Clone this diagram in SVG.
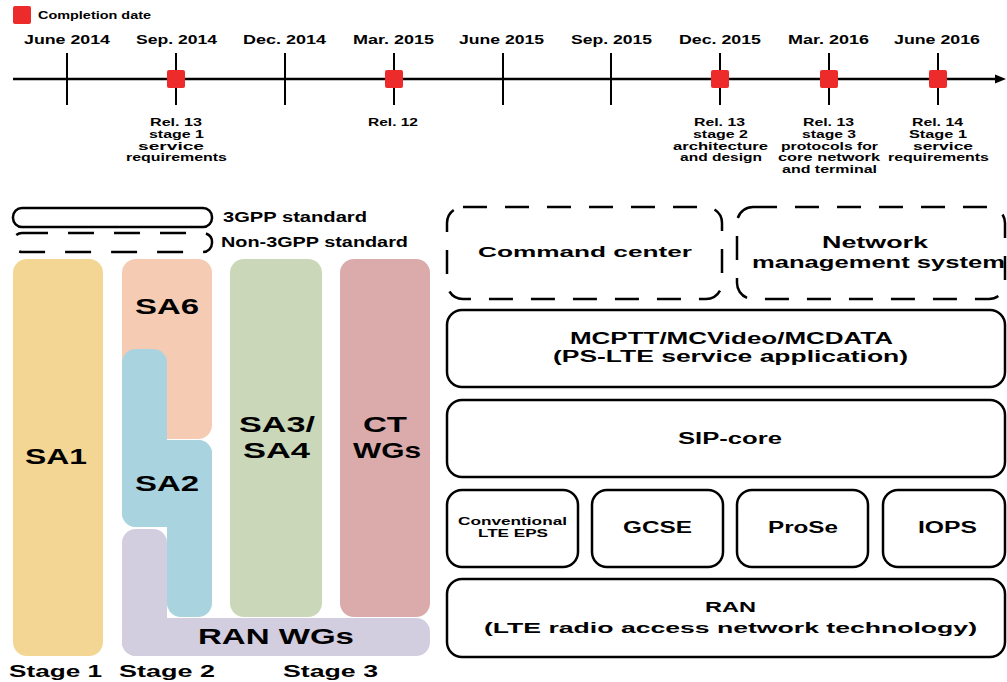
<svg xmlns="http://www.w3.org/2000/svg" width="1007" height="682" viewBox="0 0 1007 682">
<style>
.t{font-family:"Liberation Sans",Arial,sans-serif;font-weight:bold;fill:#000}
.box{fill:#fff;stroke:#000;stroke-width:2.5}
.dash{fill:#fff;stroke:#000;stroke-width:2.5;stroke-dasharray:24 18}
.tick{stroke:#000;stroke-width:2}
.mark{fill:#ee2b2b}
</style>
<rect width="1007" height="682" fill="#fff"/>
<!-- timeline -->
<g id="timeline">
<rect class="mark" x="13" y="6" width="18" height="18" rx="2"/>
<text class="t" x="38" y="18.5" font-size="10" textLength="113" lengthAdjust="spacingAndGlyphs">Completion date</text>
<line x1="13" y1="79" x2="998" y2="79" stroke="#000" stroke-width="2.5"/>
<polygon points="995,74.5 1006,79 995,83.5" fill="#000"/>
<line class="tick" x1="67" y1="53" x2="67" y2="105"/>
<line class="tick" x1="176" y1="53" x2="176" y2="105"/>
<line class="tick" x1="285" y1="53" x2="285" y2="105"/>
<line class="tick" x1="394" y1="53" x2="394" y2="105"/>
<line class="tick" x1="503" y1="53" x2="503" y2="105"/>
<line class="tick" x1="611" y1="53" x2="611" y2="105"/>
<line class="tick" x1="720" y1="53" x2="720" y2="105"/>
<line class="tick" x1="829" y1="53" x2="829" y2="105"/>
<line class="tick" x1="938" y1="53" x2="938" y2="105"/>
<rect class="mark" x="167" y="70" width="18" height="18" rx="2"/>
<rect class="mark" x="385" y="70" width="18" height="18" rx="2"/>
<rect class="mark" x="711" y="70" width="18" height="18" rx="2"/>
<rect class="mark" x="820" y="70" width="18" height="18" rx="2"/>
<rect class="mark" x="929" y="70" width="18" height="18" rx="2"/>
<g font-size="12">
<text class="t" x="24" y="44.3" textLength="86" lengthAdjust="spacingAndGlyphs">June 2014</text>
<text class="t" x="136" y="44.3" textLength="81" lengthAdjust="spacingAndGlyphs">Sep. 2014</text>
<text class="t" x="243" y="44.3" textLength="83" lengthAdjust="spacingAndGlyphs">Dec. 2014</text>
<text class="t" x="353" y="44.3" textLength="81" lengthAdjust="spacingAndGlyphs">Mar. 2015</text>
<text class="t" x="459" y="44.3" textLength="85" lengthAdjust="spacingAndGlyphs">June 2015</text>
<text class="t" x="571" y="44.3" textLength="81" lengthAdjust="spacingAndGlyphs">Sep. 2015</text>
<text class="t" x="679" y="44.3" textLength="82" lengthAdjust="spacingAndGlyphs">Dec. 2015</text>
<text class="t" x="788" y="44.3" textLength="81" lengthAdjust="spacingAndGlyphs">Mar. 2016</text>
<text class="t" x="894" y="44.3" textLength="86" lengthAdjust="spacingAndGlyphs">June 2016</text>
</g>
<g font-size="11">
<text class="t" x="150" y="126" textLength="52" lengthAdjust="spacingAndGlyphs">Rel. 13</text>
<text class="t" x="149" y="137.5" textLength="55" lengthAdjust="spacingAndGlyphs">stage 1</text>
<text class="t" x="138" y="149.5" textLength="66" lengthAdjust="spacingAndGlyphs">service</text>
<text class="t" x="126" y="161" textLength="101" lengthAdjust="spacingAndGlyphs">requirements</text>
<text class="t" x="368" y="126" textLength="50" lengthAdjust="spacingAndGlyphs">Rel. 12</text>
<text class="t" x="694" y="126" textLength="51" lengthAdjust="spacingAndGlyphs">Rel. 13</text>
<text class="t" x="693" y="137.5" textLength="55" lengthAdjust="spacingAndGlyphs">stage 2</text>
<text class="t" x="673" y="149.5" textLength="95" lengthAdjust="spacingAndGlyphs">architecture</text>
<text class="t" x="680" y="161" textLength="82" lengthAdjust="spacingAndGlyphs">and design</text>
<text class="t" x="803" y="126" textLength="51" lengthAdjust="spacingAndGlyphs">Rel. 13</text>
<text class="t" x="802" y="137.5" textLength="54" lengthAdjust="spacingAndGlyphs">stage 3</text>
<text class="t" x="781" y="149.5" textLength="97" lengthAdjust="spacingAndGlyphs">protocols for</text>
<text class="t" x="778" y="161" textLength="102" lengthAdjust="spacingAndGlyphs">core network</text>
<text class="t" x="782" y="172.5" textLength="95" lengthAdjust="spacingAndGlyphs">and terminal</text>
<text class="t" x="912" y="126" textLength="51" lengthAdjust="spacingAndGlyphs">Rel. 14</text>
<text class="t" x="909" y="137.5" textLength="58" lengthAdjust="spacingAndGlyphs">Stage 1</text>
<text class="t" x="913" y="149.5" textLength="60" lengthAdjust="spacingAndGlyphs">service</text>
<text class="t" x="888" y="161" textLength="101" lengthAdjust="spacingAndGlyphs">requirements</text>
</g>
</g>
<!-- legend -->
<g id="legend">
<rect x="13" y="208" width="199" height="19" rx="9" fill="#fff" stroke="#000" stroke-width="2.5"/>
<text class="t" x="223" y="221.5" font-size="14" textLength="144" lengthAdjust="spacingAndGlyphs">3GPP standard</text>
<rect x="13" y="233" width="199" height="19" rx="9" fill="#fff" stroke="#000" stroke-width="2.5" stroke-dasharray="26 20"/>
<text class="t" x="221" y="246.5" font-size="14" textLength="187" lengthAdjust="spacingAndGlyphs">Non-3GPP standard</text>
</g>
<!-- working groups -->
<g id="SA1">
<rect x="13" y="259" width="90" height="397" rx="14" fill="#f3d693"/>
<text class="t" x="25" y="464.3" font-size="22" textLength="62" lengthAdjust="spacingAndGlyphs">SA1</text>
</g>
<g id="SA6">
<rect x="122" y="259" width="90" height="180" rx="14" fill="#f6cbb3"/>
<text class="t" x="135" y="314" font-size="22" textLength="64" lengthAdjust="spacingAndGlyphs">SA6</text>
</g>
<g id="RANWGs">
<rect x="122" y="529" width="45" height="127" rx="14" fill="#d3cde0"/>
<rect x="122" y="618" width="308" height="38" rx="14" fill="#d3cde0"/>
<text class="t" x="198" y="644" font-size="22" textLength="156" lengthAdjust="spacingAndGlyphs">RAN WGs</text>
</g>
<g id="SA2">
<rect x="122" y="349" width="45" height="178" rx="14" fill="#a9d3df"/>
<rect x="122" y="440" width="90" height="87" rx="14" fill="#a9d3df"/>
<rect x="167" y="440" width="45" height="177" rx="14" fill="#a9d3df"/>
<text class="t" x="135" y="490.7" font-size="22" textLength="64" lengthAdjust="spacingAndGlyphs">SA2</text>
</g>
<g id="SA3SA4">
<rect x="230" y="259" width="92" height="358" rx="14" fill="#cad8b9"/>
<text class="t" x="239" y="431.7" font-size="22" textLength="76" lengthAdjust="spacingAndGlyphs">SA3/</text>
<text class="t" x="243" y="458.3" font-size="22" textLength="67" lengthAdjust="spacingAndGlyphs">SA4</text>
</g>
<g id="CTWGs">
<rect x="340" y="259" width="90" height="358" rx="14" fill="#dbabab"/>
<text class="t" x="363" y="431.7" font-size="22" textLength="44" lengthAdjust="spacingAndGlyphs">CT</text>
<text class="t" x="353" y="458.3" font-size="22" textLength="68" lengthAdjust="spacingAndGlyphs">WGs</text>
</g>
<g id="stages" font-size="17">
<text class="t" x="9" y="677" textLength="93" lengthAdjust="spacingAndGlyphs">Stage 1</text>
<text class="t" x="119" y="677" textLength="96" lengthAdjust="spacingAndGlyphs">Stage 2</text>
<text class="t" x="283" y="677" textLength="95" lengthAdjust="spacingAndGlyphs">Stage 3</text>
</g>
<!-- architecture -->
<g id="command-center">
<rect class="dash" x="447" y="207" width="275" height="92" rx="16"/>
<text class="t" x="478" y="257.3" font-size="15" textLength="214" lengthAdjust="spacingAndGlyphs">Command center</text>
</g>
<g id="network-management">
<rect class="dash" x="737" y="207" width="268" height="92" rx="16"/>
<text class="t" x="822" y="248.3" font-size="16" textLength="106" lengthAdjust="spacingAndGlyphs">Network</text>
<text class="t" x="752" y="267.7" font-size="16" textLength="253" lengthAdjust="spacingAndGlyphs">management system</text>
</g>
<g id="mcptt">
<rect class="box" x="447" y="310" width="558" height="77" rx="15"/>
<text class="t" x="570" y="344" font-size="16" textLength="323" lengthAdjust="spacingAndGlyphs">MCPTT/MCVideo/MCDATA</text>
<text class="t" x="553" y="362" font-size="16" textLength="355" lengthAdjust="spacingAndGlyphs">(PS-LTE service application)</text>
</g>
<g id="sip-core">
<rect class="box" x="447" y="400" width="558" height="77" rx="15"/>
<text class="t" x="678" y="444.3" font-size="16" textLength="104" lengthAdjust="spacingAndGlyphs">SIP-core</text>
</g>
<g id="conventional">
<rect class="box" x="447" y="490" width="131" height="77" rx="15"/>
<text class="t" x="458" y="525" font-size="11" textLength="109" lengthAdjust="spacingAndGlyphs">Conventional</text>
<text class="t" x="478" y="536.7" font-size="11" textLength="70" lengthAdjust="spacingAndGlyphs">LTE EPS</text>
</g>
<g id="gcse">
<rect class="box" x="592" y="490" width="131" height="77" rx="15"/>
<text class="t" x="623" y="533.3" font-size="16" textLength="69" lengthAdjust="spacingAndGlyphs">GCSE</text>
</g>
<g id="prose">
<rect class="box" x="737" y="490" width="131" height="77" rx="15"/>
<text class="t" x="768" y="533.3" font-size="16" textLength="70" lengthAdjust="spacingAndGlyphs">ProSe</text>
</g>
<g id="iops">
<rect class="box" x="883" y="490" width="122" height="77" rx="15"/>
<text class="t" x="918" y="533.3" font-size="16" textLength="59" lengthAdjust="spacingAndGlyphs">IOPS</text>
</g>
<g id="ran">
<rect class="box" x="447" y="579" width="558" height="78" rx="15"/>
<text class="t" x="705" y="612.3" font-size="15" textLength="51" lengthAdjust="spacingAndGlyphs">RAN</text>
<text class="t" x="484" y="633" font-size="15" textLength="493" lengthAdjust="spacingAndGlyphs">(LTE radio access network technology)</text>
</g>
<g id="connectors"/>
</svg>
